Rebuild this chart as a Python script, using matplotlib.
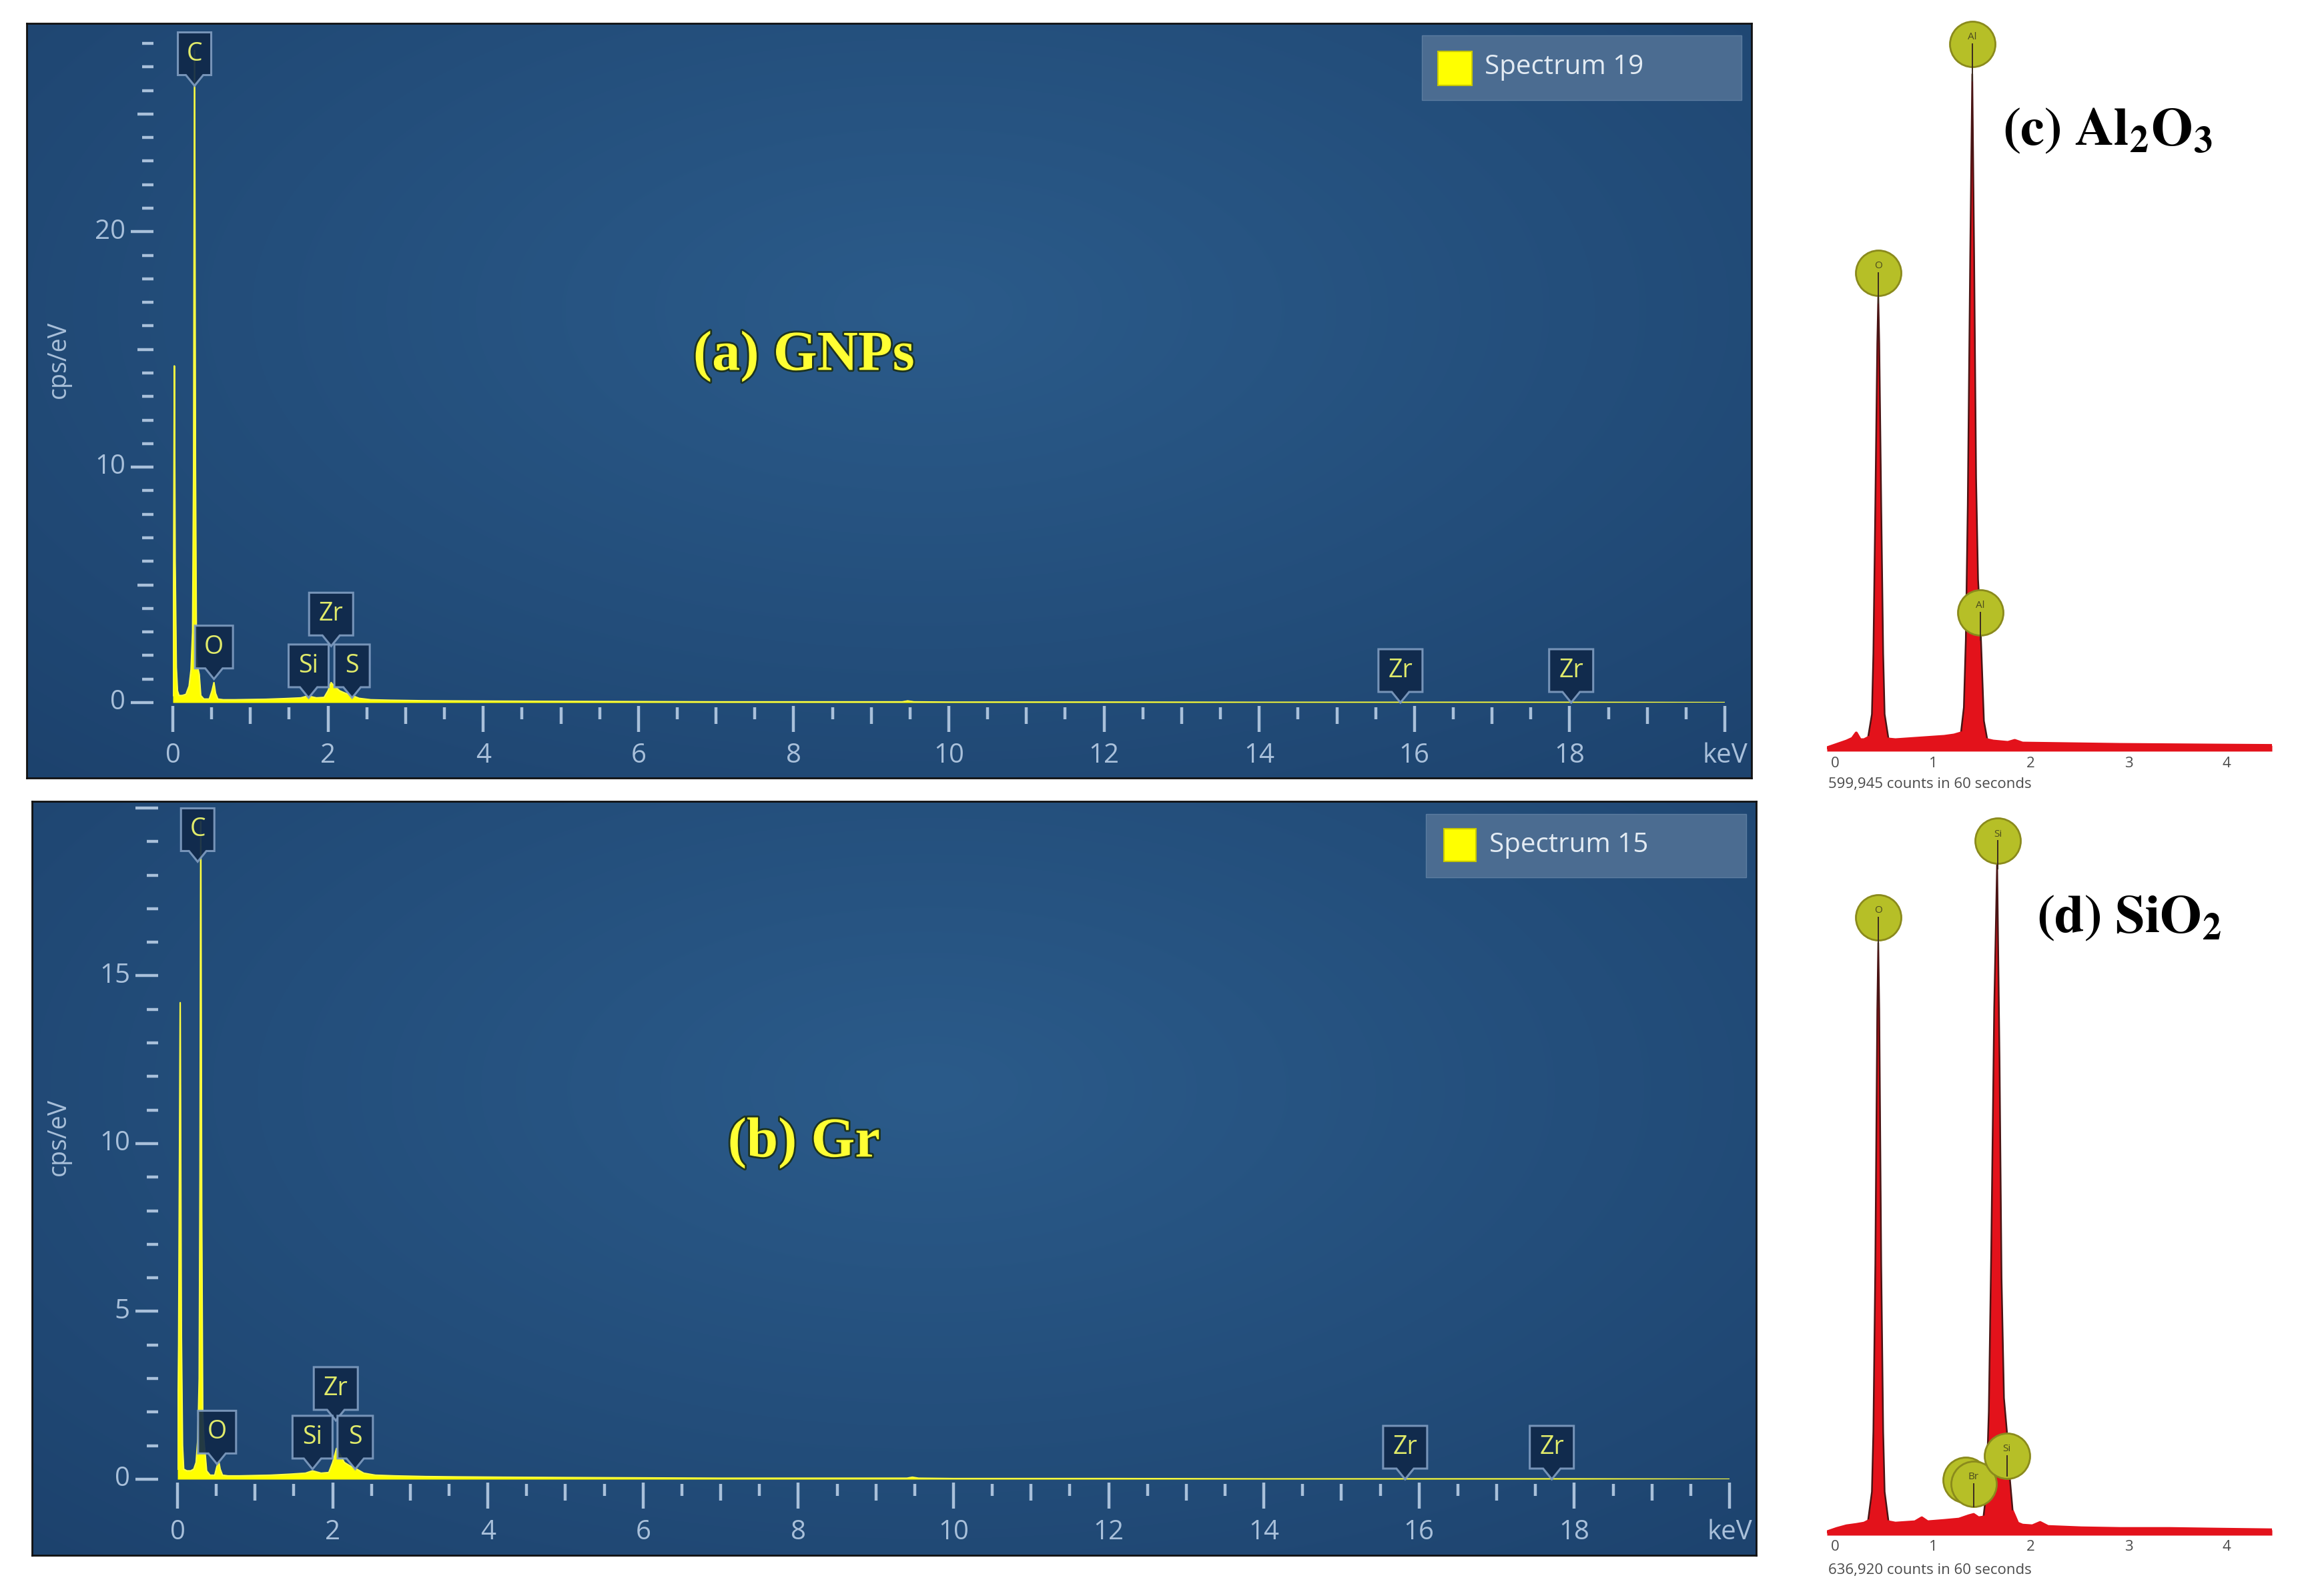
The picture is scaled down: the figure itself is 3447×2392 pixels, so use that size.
import numpy as np
import matplotlib
matplotlib.use("Agg")
import matplotlib.pyplot as plt
from matplotlib import transforms
from matplotlib.patches import Polygon, Rectangle
import matplotlib.patheffects as pe
import matplotlib.colors as mcolors

plt.rcParams['mathtext.fontset'] = 'stix'

# ---------------------------------------------------------------- data
# (a) GNPs EDS spectrum : energy (keV) vs cps/eV
a_energy = [0.000, 0.010, 0.020, 0.030, 0.045, 0.060, 0.080, 0.120, 0.170, 0.210,
            0.235, 0.255, 0.268, 0.280, 0.292, 0.305, 0.320, 0.340, 0.360, 0.400,
            0.470, 0.505, 0.530, 0.550, 0.580, 0.650, 0.800, 1.000, 1.200, 1.450,
            1.650, 1.740, 1.850, 1.950, 2.000, 2.040, 2.080, 2.150, 2.220, 2.310,
            2.400, 2.550, 2.800, 3.200, 3.600, 4.200, 5.000, 6.000, 7.000, 8.000,
            9.000, 9.400, 9.470, 9.550, 10.00, 11.00, 12.00, 14.00, 16.00, 18.00,
            20.00]
a_cps = [0.30, 5.00, 14.3, 6.00, 1.50, 0.50, 0.30, 0.30, 0.35, 0.70,
         1.40, 3.00, 10.0, 27.7, 10.0, 2.00, 1.50, 1.20, 0.30, 0.15,
         0.15, 0.50, 0.85, 0.40, 0.15, 0.12, 0.12, 0.13, 0.14, 0.17,
         0.20, 0.28, 0.20, 0.22, 0.50, 0.85, 0.70, 0.50, 0.40, 0.30,
         0.18, 0.12, 0.10, 0.08, 0.07, 0.06, 0.05, 0.04, 0.03, 0.03,
         0.03, 0.03, 0.07, 0.03, 0.02, 0.02, 0.02, 0.01, 0.01, 0.01,
         0.00]
a_peak_names = ['C', 'Zr', 'O', 'Si', 'S', 'Zr', 'Zr']
a_peak_keV = [0.28, 2.04, 0.53, 1.75, 2.31, 15.82, 18.02]
a_peak_tip = [26.2, 2.4, 1.0, 0.2, 0.2, 0.0, 0.0]

# (b) Gr EDS spectrum
b_energy = [0.000, 0.015, 0.035, 0.050, 0.065, 0.080, 0.120, 0.170, 0.210, 0.240,
            0.262, 0.280, 0.290, 0.300, 0.312, 0.325, 0.340, 0.355, 0.375, 0.420,
            0.480, 0.505, 0.530, 0.550, 0.580, 0.650, 0.800, 1.000, 1.200, 1.450,
            1.650, 1.740, 1.850, 1.950, 2.000, 2.050, 2.090, 2.150, 2.220, 2.310,
            2.400, 2.550, 2.800, 3.200, 3.600, 4.200, 5.000, 6.000, 7.000, 8.000,
            9.000, 9.400, 9.470, 9.550, 10.00, 11.00, 12.00, 14.00, 16.00, 18.00,
            20.00]
b_cps = [0.30, 4.00, 14.2, 4.40, 1.00, 0.30, 0.25, 0.25, 0.30, 0.50,
         1.20, 3.00, 9.00, 19.6, 8.00, 2.00, 1.20, 0.80, 0.25, 0.12,
         0.12, 0.35, 0.55, 0.30, 0.12, 0.10, 0.10, 0.11, 0.12, 0.15,
         0.18, 0.25, 0.18, 0.20, 0.50, 0.92, 0.75, 0.50, 0.40, 0.30,
         0.18, 0.12, 0.10, 0.08, 0.07, 0.06, 0.05, 0.04, 0.03, 0.03,
         0.03, 0.03, 0.06, 0.03, 0.02, 0.02, 0.02, 0.01, 0.01, 0.01,
         0.00]
b_peak_names = ['C', 'Zr', 'O', 'Si', 'S', 'Zr', 'Zr']
b_peak_keV = [0.26, 2.04, 0.51, 1.74, 2.29, 15.82, 17.71]
b_peak_tip = [18.4, 1.75, 0.45, 0.3, 0.3, 0.0, 0.0]

# (c) Al2O3 spectrum : energy (keV) vs relative counts
c_energy = [0.00, 0.10, 0.20, 0.26, 0.30, 0.34, 0.38, 0.42, 0.46, 0.475,
            0.495, 0.515, 0.525, 0.535, 0.555, 0.575, 0.59, 0.63, 0.70, 1.00,
            1.20, 1.30, 1.37, 1.40, 1.42, 1.44, 1.465, 1.486, 1.505, 1.525,
            1.545, 1.565, 1.585, 1.605, 1.64, 1.70, 1.85, 1.92, 2.00, 2.50,
            3.00, 3.50, 4.00, 4.55]
c_counts = [0.0, 0.5, 1.0, 1.4, 2.2, 1.2, 1.2, 1.5, 5.0, 14.0,
            36.0, 60.0, 67.0, 60.0, 36.0, 14.0, 5.0, 1.3, 1.2, 1.5,
            1.7, 1.9, 2.2, 6.0, 16.0, 36.0, 73.0, 100.0, 73.0, 40.0,
            25.0, 20.0, 12.0, 4.0, 1.2, 1.0, 0.8, 1.1, 0.7, 0.6,
            0.5, 0.45, 0.4, 0.35]
c_peak_names = ['O', 'Al', 'Al']
c_peak_keV = [0.525, 1.486, 1.567]
c_peak_mark = [70.5, 104.5, 20.1]
c_peak_stem = [66.0, 99.0, 16.0]
c_counts_text = '599,945 counts in 60 seconds'

# (d) SiO2 spectrum
d_energy = [0.00, 0.10, 0.20, 0.30, 0.38, 0.42, 0.46, 0.475, 0.495, 0.515,
            0.525, 0.535, 0.555, 0.575, 0.59, 0.63, 0.70, 0.90, 0.97, 1.03,
            1.20, 1.35, 1.45, 1.50, 1.55, 1.60, 1.63, 1.655, 1.68, 1.71,
            1.74, 1.765, 1.785, 1.81, 1.84, 1.87, 1.90, 1.95, 2.00, 2.10,
            2.18, 2.26, 2.60, 3.00, 3.50, 4.00, 4.55]
d_counts = [0.0, 0.5, 0.9, 1.1, 1.3, 1.6, 6.0, 15.0, 40.0, 78.0,
            88.0, 78.0, 40.0, 15.0, 6.0, 1.5, 1.3, 1.5, 2.1, 1.5,
            1.7, 1.9, 2.4, 2.6, 2.1, 2.2, 6.0, 18.0, 42.0, 78.0,
            100.0, 70.0, 38.0, 20.0, 15.0, 8.0, 3.0, 1.3, 1.0, 0.9,
            1.4, 0.8, 0.6, 0.5, 0.5, 0.4, 0.3]
d_peak_names = ['O', 'Si', '', 'Br', 'Si']
d_peak_keV = [0.525, 1.746, 1.42, 1.50, 1.84]
d_peak_mark = [91.8, 103.2, 7.8, 7.2, 11.4]
d_peak_stem = [87.0, 99.0, np.nan, 3.8, 8.4]
d_counts_text = '636,920 counts in 60 seconds'

keV_ticks = [0, 2, 4, 6, 8, 10, 12, 14, 16, 18]
right_ticks = [0, 1, 2, 3, 4]

# ---------------------------------------------------------------- figure
W, H, DPI = 3448, 2392, 100
fig = plt.figure(figsize=(W / DPI, H / DPI), dpi=DPI, facecolor='white')


def rect(x0, y0, x1, y1):
    return [x0 / W, 1 - y1 / H, (x1 - x0) / W, (y1 - y0) / H]


UI = ['Open Sans', 'DejaVu Sans']
TICK = '#a9c0da'
YEL = '#ffff00'
BOXW = {'C': 0.50, 'O': 0.57, 'Si': 0.60, 'S': 0.53, 'Zr': 0.66}


def gradient_bg(ax):
    gy, gx = np.mgrid[0:1:240j, 0:1:480j]
    r = np.clip(np.sqrt(((gx - 0.52) / 0.78) ** 2 + ((gy - 0.62) / 0.9) ** 2), 0, 1)
    c0 = np.array(mcolors.to_rgb('#2b5b8a'))
    c1 = np.array(mcolors.to_rgb('#1c416c'))
    img = c0[None, None, :] * (1 - r[..., None]) + c1[None, None, :] * r[..., None]
    ax.imshow(img, extent=[0, 1, 0, 1], origin='lower', aspect='auto',
              interpolation='bilinear')
    ax.set_xlim(0, 1)
    ax.set_ylim(0, 1)
    ax.set_xticks([])
    ax.set_yticks([])
    for s in ax.spines.values():
        s.set_color('#111111')
        s.set_linewidth(2)


def callout(ax, x, y, name):
    w = BOXW.get(name, 0.6) / 2
    p, h, pw = 0.16, 0.64, 0.13
    trans = fig.dpi_scale_trans + transforms.ScaledTranslation(x, y, ax.transData)
    verts = [(-w, p), (-pw, p), (0, 0), (pw, p), (w, p), (w, p + h), (-w, p + h)]
    ax.add_patch(Polygon(verts, closed=True, transform=trans, facecolor='#10294a',
                         edgecolor='#7f9cc0', lw=2.2, zorder=6, clip_on=False,
                         alpha=0.92))
    ax.text(0, p + h / 2, name, transform=trans, ha='center', va='center',
            fontsize=27, color='#e0ea6a', family=UI, zorder=7, clip_on=False)


def eds_panel(frame, plot, ymax, energy, cps, ymajor, ymid, names, kev, tips,
              title, title_xy, leg_box, leg_sq, leg_txt, leg_label, ylab_xy):
    bg = fig.add_axes(rect(*frame))
    gradient_bg(bg)
    ax = fig.add_axes(rect(*plot))
    ax.patch.set_alpha(0)
    ax.set_xlim(0, 20)
    ax.set_ylim(0, ymax)
    for s in ax.spines.values():
        s.set_visible(False)
    ax.set_xticks([])
    ax.set_yticks([])
    hpx = (plot[3] - plot[1])
    wpx = (plot[2] - plot[0])

    ax.fill_between(energy, cps, 0, color=YEL, lw=0, zorder=3)
    ax.plot(energy, cps, color='#ffff40', lw=1.6, zorder=4)

    # x ticks (three lengths)
    xt = ax.get_xaxis_transform()
    for v in np.arange(0, 20.001, 0.5):
        if abs(v % 2) < 1e-6:
            y0, y1 = 5, 44
        elif abs(v % 1) < 1e-6:
            y0, y1 = 7, 32
        else:
            y0, y1 = 7, 25
        ax.plot([v, v], [-y0 / hpx, -y1 / hpx], transform=xt, color=TICK, lw=3.2,
                solid_capstyle='butt', clip_on=False)
    for v in keV_ticks:
        ax.text(v, -80 / hpx, str(v), transform=xt, ha='center', va='center',
                fontsize=29, color=TICK, family=UI)
    ax.text(20, -80 / hpx, 'keV', transform=xt, ha='center', va='center',
            fontsize=29, color=TICK, family=UI)

    # y ticks
    yt = ax.get_yaxis_transform()
    for v in range(0, int(np.floor(ymax + 0.2)) + 1):
        if v in ymajor:
            L = 34
        elif v in ymid:
            L = 24
        else:
            L = 17
        ax.plot([-29 / wpx, -(29 + L) / wpx], [v, v], transform=yt, color=TICK,
                lw=3.2, solid_capstyle='butt', clip_on=False)
    for v in ymajor:
        if v <= ymax - 1:
            ax.text(-71 / wpx, v, str(v), transform=yt, ha='right', va='center',
                    fontsize=29, color=TICK, family=UI)
    fig.text(ylab_xy[0] / W, 1 - ylab_xy[1] / H, 'cps/eV', rotation=90,
             ha='center', va='center', fontsize=27, color=TICK, family=UI)

    # peak labels
    for n, x, t in zip(names, kev, tips):
        callout(ax, x, t, n)

    # title
    fig.text(title_xy[0] / W, 1 - title_xy[1] / H, title, ha='center', va='center',
             fontsize=61, fontweight='bold', family=['Liberation Serif', 'DejaVu Serif'],
             color='#ffff33', zorder=10,
             path_effects=[pe.withStroke(linewidth=4, foreground='#1d3320')])

    # legend
    x0, y0, x1, y1 = leg_box
    fig.add_artist(Rectangle((x0 / W, 1 - y1 / H), (x1 - x0) / W, (y1 - y0) / H,
                             transform=fig.transFigure, facecolor='#4b6c91',
                             edgecolor='#5b7ca0', lw=1, zorder=8))
    x0, y0, x1, y1 = leg_sq
    fig.add_artist(Rectangle((x0 / W, 1 - y1 / H), (x1 - x0) / W, (y1 - y0) / H,
                             transform=fig.transFigure, facecolor='#ffff00',
                             edgecolor='#c8c800', lw=1.5, zorder=9))
    fig.text(leg_txt[0] / W, 1 - leg_txt[1] / H, leg_label, ha='left', va='center',
             fontsize=29, color='#e3ebf3', family=UI, zorder=10)
    return ax


eds_panel((40, 35, 2625, 1166), (259, 65, 2585, 1053), 28.0, a_energy, a_cps,
          [0, 10, 20], [5, 15, 25], a_peak_names, a_peak_keV, a_peak_tip,
          '(a) GNPs', (1205, 534), (2131, 53, 2610, 150), (2155, 77, 2206, 128),
          (2225, 101), 'Spectrum 19', (88, 539))

eds_panel((48, 1201, 2632, 2331), (266, 1216, 2592, 2217), 19.9, b_energy, b_cps,
          [0, 5, 10, 15, 20], [], b_peak_names, b_peak_keV, b_peak_tip,
          '(b) Gr', (1205, 1713), (2137, 1220, 2617, 1315), (2164, 1242, 2212, 1291),
          (2232, 1267), 'Spectrum 15', (88, 1704))


# ---------------------------------------------------------------- right panels
def red_panel(plot, energy, counts, names, kev, marks, stems, title, title_xy,
              count_text, count_xy):
    ax = fig.add_axes(rect(*plot))
    ax.patch.set_alpha(0)
    ax.set_xlim(0, 4.55)
    ax.set_ylim(-1.5, 110)
    for s in ax.spines.values():
        s.set_visible(False)
    ax.set_xticks([])
    ax.set_yticks([])
    hpx = plot[3] - plot[1]
    e = np.asarray(energy)
    c = np.asarray(counts)
    ax.fill_between(e, c, -0.5, color='#e3121b', lw=0, zorder=2)
    ax.plot(e, c, color='#4a1414', lw=1.8, zorder=3)
    ax.plot(e, np.where(c < 4, c, np.nan), color='#e3121b', lw=3.2, zorder=3.5)
    # marker circles
    for n, x, m, st in zip(names, kev, marks, stems):
        ax.plot([x], [m], marker='o', markersize=49, markerfacecolor='#b6bf27',
                markeredgecolor='#8a8a1c', markeredgewidth=2, zorder=5,
                clip_on=False)
        if not np.isnan(st):
            ax.plot([x, x], [m, st], color='#3a2a20', lw=1.4, zorder=6,
                    clip_on=False)
        if n:
            ax.text(x, m + 1.0, n, ha='center', va='center', fontsize=11,
                    color='#4b4b1e', family=UI, zorder=7, clip_on=False)
    # ticks labels
    xt = transforms.offset_copy(ax.get_xaxis_transform(), fig=fig, x=6, y=0,
                                units='dots')
    for v in right_ticks:
        ax.text(v, -8 / hpx, str(v), transform=xt, ha='left', va='center',
                fontsize=16, color='#4a4a4a', family=UI)
    fig.text(count_xy[0] / W, 1 - count_xy[1] / H, count_text, ha='left',
             va='center', fontsize=16, color='#4a4a4a', family=UI)
    fig.text(title_xy[0] / W, 1 - title_xy[1] / H, title, ha='center',
             va='center', fontsize=58, color='black')
    return ax


red_panel((2738, 10, 3405, 1136), c_energy, c_counts, c_peak_names, c_peak_keV,
          c_peak_mark, c_peak_stem, r'$\mathbf{(c)\ Al_{2}O_{3}}$', (3158, 194),
          c_counts_text, (2740, 1176))
red_panel((2738, 1192, 3405, 2311), d_energy, d_counts, d_peak_names, d_peak_keV,
          d_peak_mark, d_peak_stem, r'$\mathbf{(d)\ SiO_{2}}$', (3191, 1374),
          d_counts_text, (2740, 2354))

fig.savefig('out.png', dpi=DPI, facecolor='white')
